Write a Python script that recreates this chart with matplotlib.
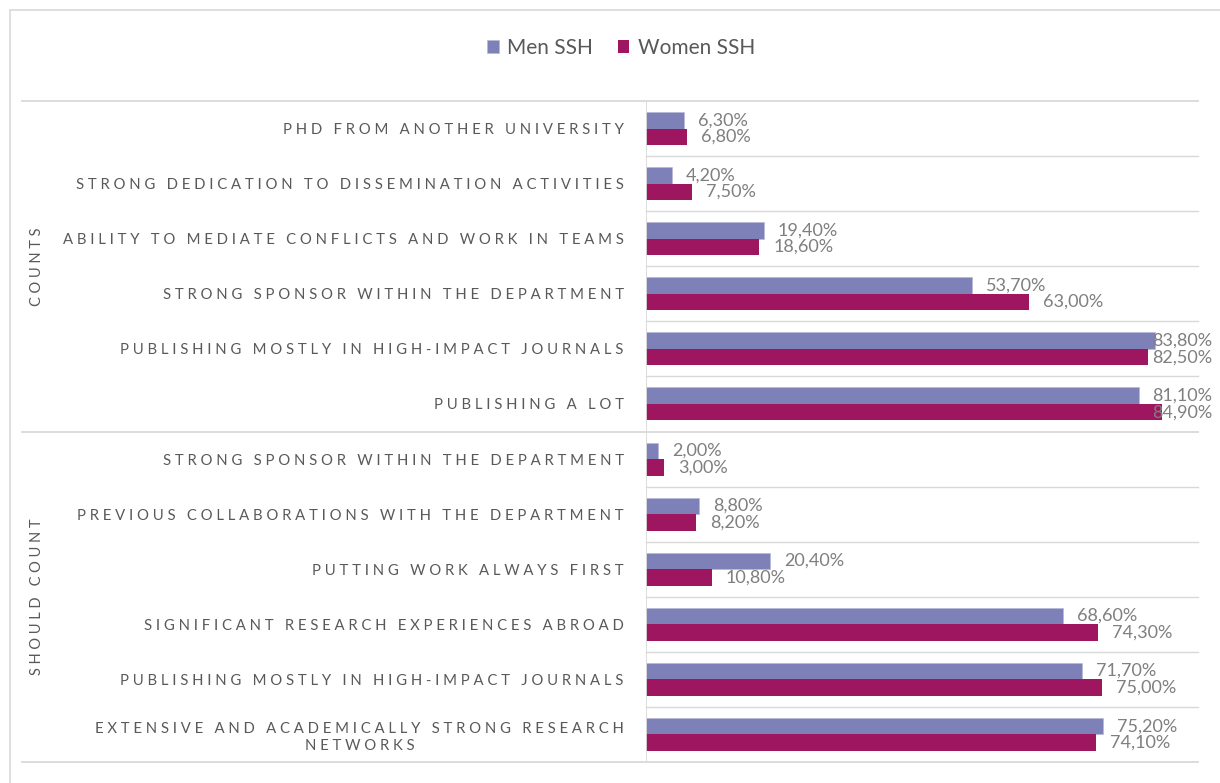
import matplotlib
matplotlib.use("Agg")
import matplotlib.pyplot as plt
from matplotlib.lines import Line2D
from matplotlib.patches import Rectangle

plt.rcParams['font.family'] = ['Lato', 'DejaVu Sans']

groups = ["COUNTS", "SHOULD COUNT"]
categories = [
    "PHD FROM ANOTHER UNIVERSITY",
    "STRONG DEDICATION TO DISSEMINATION ACTIVITIES",
    "ABILITY TO MEDIATE CONFLICTS AND WORK IN TEAMS",
    "STRONG SPONSOR WITHIN THE DEPARTMENT",
    "PUBLISHING MOSTLY IN HIGH-IMPACT JOURNALS",
    "PUBLISHING A LOT",
    "STRONG SPONSOR WITHIN THE DEPARTMENT",
    "PREVIOUS COLLABORATIONS WITH THE DEPARTMENT",
    "PUTTING WORK ALWAYS FIRST",
    "SIGNIFICANT RESEARCH EXPERIENCES ABROAD",
    "PUBLISHING MOSTLY IN HIGH-IMPACT JOURNALS",
    "EXTENSIVE AND ACADEMICALLY STRONG RESEARCH\nNETWORKS",
]
group_sizes = [6, 6]
men = [6.3, 4.2, 19.4, 53.7, 83.8, 81.1, 2.0, 8.8, 20.4, 68.6, 71.7, 75.2]
women = [6.8, 7.5, 18.6, 63.0, 82.5, 84.9, 3.0, 8.2, 10.8, 74.3, 75.0, 74.1]
series_names = ["Men SSH", "Women SSH"]
colors = ["#7E80B8", "#9E1560"]

W, H = 1220, 783
fig = plt.figure(figsize=(W / 100, H / 100), dpi=100)

# outer chart frame
fig.patches.append(Rectangle((10 / W, -0.01), 1.0, 1 - 10 / H + 0.01, transform=fig.transFigure,
                             fill=False, edgecolor="#D9D9D9", linewidth=1.2))

ax_l, ax_r, ax_t, ax_b = 646, 1198, 101, 762
ax = fig.add_axes([ax_l / W, 1 - ax_b / H, (ax_r - ax_l) / W, (ax_b - ax_t) / H])
xmax = 90.8
ax.set_xlim(0, xmax)
n = len(categories)
ax.set_ylim(n - 0.5, -0.5)

def spaced(s, sep="\u2005"):
    return "\n".join(sep.join(list(line)) for line in s.split("\n"))

ys = list(range(n))
bh = 0.3
ax.barh([y - bh / 2 for y in ys], men, height=bh, color=colors[0], edgecolor="#B7B9DA", linewidth=0.5, label=series_names[0])
ax.barh([y + bh / 2 for y in ys], women, height=bh, color=colors[1], label=series_names[1])

lab_max = 83.2
for y, m, w in zip(ys, men, women):
    for v, yy in ((m, y - bh / 2), (w, y + bh / 2)):
        ax.text(min(v + 2.3, lab_max), yy, f"{v:.2f}".replace(".", ",") + "%",
                va="center", ha="left", fontsize=13, color="#7F7F7F")

for s in ax.spines.values():
    s.set_visible(False)
ax.set_xticks([])
ax.set_yticks(ys)
ax.set_yticklabels([spaced(c) for c in categories], fontsize=10.7, color="#595959",
                   multialignment="center", linespacing=1.25)
ax.tick_params(axis="y", length=0, pad=16)

grid_c = "#D9D9D9"
ax.axvline(0, color=grid_c, linewidth=1.3)
ext = -(ax_l - 22) / (ax_r - ax_l)
start = 0
bounds = [-0.5]
for g in group_sizes:
    start += g
    bounds.append(start - 0.5)
for y in range(n + 1):
    yy = y - 0.5
    if yy in bounds:
        ax.add_line(Line2D([ext * xmax, xmax], [yy, yy], color=grid_c, linewidth=1.3, clip_on=False))
    else:
        ax.add_line(Line2D([0, xmax], [yy, yy], color=grid_c, linewidth=1.0, clip_on=False))

# group labels
start = 0
for g, size in zip(groups, group_sizes):
    yc = start + size / 2 - 0.5
    ax.text(-(ax_l - 37) / (ax_r - ax_l) * xmax, yc, spaced(g), rotation=90, ha="center", va="center",
            fontsize=10.5, color="#595959", clip_on=False)
    start += size

leg = fig.legend(loc="center", bbox_to_anchor=(0.509, 1 - 48 / H), ncol=2, frameon=False,
                 fontsize=15, handlelength=0.55, handleheight=0.55, handletextpad=0.4,
                 columnspacing=1.2, labelcolor="#595959")

fig.savefig("out.png", dpi=100)
